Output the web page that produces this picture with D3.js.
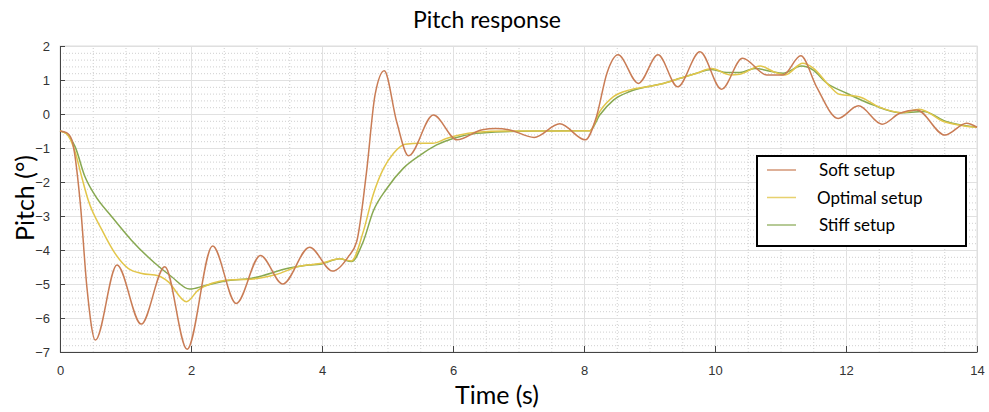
<!DOCTYPE html>
<html>
<head>
<meta charset="utf-8">
<script src="https://cdn.jsdelivr.net/npm/d3@7"></script>
<style>
  body { margin: 0; background: #fff; }
  svg { display: block; }
</style>
</head>
<body>
<svg id="chart"></svg>
<script>
// soft setup (time in s, pitch in deg)
const SOFT_T = [0, 0.1, 0.18, 0.31, 0.41, 0.54, 0.87, 1.24, 1.60, 1.94, 2.33, 2.69, 3.06, 3.40, 3.81, 4.16, 4.40, 4.53,
                4.68, 4.81, 4.95, 5.14, 5.32, 5.70, 6.06, 6.45, 6.65, 6.85, 7.24, 7.63, 8.02, 8.19, 8.35, 8.52, 8.83, 9.13,
                9.43, 9.77, 10.10, 10.42, 10.79, 11.04, 11.31, 11.55, 11.88, 12.19, 12.55, 12.82, 13.08, 13.51, 13.84, 14];
const SOFT_V = [-0.5, -0.55, -0.76, -2.63, -5.08, -6.65, -4.44, -6.18, -4.49, -6.92, -3.88, -5.57, -4.16, -5.0, -3.92, -4.62, -4.20, -3.75,
                -1.70, 0.56, 1.27, -0.23, -1.23, -0.03, -0.76, -0.46, -0.43, -0.46, -0.69, -0.29, -0.76, -0.08, 1.20, 1.74, 0.90, 1.74,
                0.80, 1.83, 0.73, 1.64, 1.15, 1.15, 1.71, 0.80, -0.13, 0.24, -0.30, 0.02, 0.12, -0.62, -0.27, -0.39];

// optimal setup
const OPT_T = [0, 0.1, 0.23, 0.33, 0.43, 0.64, 0.84, 1.04, 1.25, 1.50, 1.65, 1.93, 2.11, 2.32, 2.57, 2.95, 3.3, 3.65, 3.97,
               4.27, 4.45, 4.63, 4.78, 4.94, 5.09, 5.27, 5.50, 5.69, 5.90, 6.10, 6.36, 6.8, 7.5, 8.09, 8.24, 8.45, 8.70, 8.96,
               9.21, 9.47, 9.72, 9.95, 10.23, 10.38, 10.69, 10.90, 11.07, 11.34, 11.50, 11.76, 11.90, 12.2, 12.5, 12.85, 13.12,
               13.5, 13.8, 14];
const OPT_V = [-0.5, -0.58, -1.11, -1.84, -2.53, -3.41, -4.10, -4.54, -4.69, -4.76, -4.93, -5.52, -5.18, -4.98, -4.88, -4.85, -4.72, -4.48, -4.40,
               -4.26, -4.32, -3.46, -2.38, -1.60, -1.16, -0.89, -0.86, -0.86, -0.72, -0.62, -0.54, -0.5, -0.5, -0.49, 0.07, 0.51, 0.71, 0.80,
               0.90, 1.05, 1.20, 1.34, 1.15, 1.17, 1.41, 1.24, 1.15, 1.49, 1.35, 0.80, 0.58, 0.51, 0.21, 0.04, 0.14,
               -0.23, -0.35, -0.39];

// stiff setup
const STIFF_T = [0, 0.1, 0.23, 0.38, 0.53, 0.79, 1.09, 1.45, 1.70, 1.98, 2.21, 2.57, 2.93, 3.5, 3.8, 3.97, 4.27, 4.45, 4.63,
                 4.78, 4.99, 5.24, 5.50, 5.75, 6.0, 6.36, 6.77, 7.5, 8.09, 8.24, 8.45, 8.70, 8.96, 9.21, 9.47, 9.72, 9.95,
                 10.18, 10.38, 10.61, 10.84, 11.04, 11.32, 11.50, 11.70, 12.01, 12.42, 12.82, 13.18, 13.54, 14];
const STIFF_V = [-0.5, -0.58, -0.96, -1.84, -2.38, -3.02, -3.71, -4.39, -4.78, -5.15, -5.05, -4.90, -4.83, -4.53, -4.44, -4.42, -4.26, -4.34, -3.75,
                 -2.87, -2.19, -1.60, -1.21, -0.91, -0.72, -0.57, -0.52, -0.5, -0.49, -0.03, 0.41, 0.66, 0.80, 0.90, 1.05, 1.20, 1.31,
                 1.22, 1.22, 1.34, 1.26, 1.20, 1.41, 1.29, 0.92, 0.61, 0.26, 0.04, 0.07, -0.23, -0.39];

const SERIES_NAMES = ["Soft setup", "Optimal setup", "Stiff setup"];
const X_TICKS = [0, 2, 4, 6, 8, 10, 12, 14];
const Y_TICKS = [-7, -6, -5, -4, -3, -2, -1, 0, 1, 2];

var colors = ["#c97c55", "#e2c64a", "#87a851"];

var width = 989, height = 412;
var margin = {top: 46, right: 12, bottom: 60, left: 60};
var w = width - margin.left - margin.right;
var h = height - margin.top - margin.bottom;

var svg = d3.select("#chart").attr("width", width).attr("height", height);
var g = svg.append("g").attr("transform", "translate(" + margin.left + "," + margin.top + ")");

var x = d3.scaleLinear().domain([0, 14]).range([0, w]);
var y = d3.scaleLinear().domain([-7, 2]).range([h, 0]);

/*** grid ***/
// minor dotted: every 0.5 s and every 0.2 deg
g.append("g")
  .attr("transform", "translate(0," + h + ")")
  .call(d3.axisBottom(x).tickValues(d3.range(0.5, 14, 0.5).filter(v => v % 2 != 0)).tickSize(-h).tickFormat(""))
  .call(s => s.select(".domain").remove())
  .selectAll("line").attr("stroke", "#cfcfcf").attr("stroke-dasharray", "1,2");
g.append("g")
  .call(d3.axisLeft(y).tickValues(d3.range(-7, 2.01, 0.2).filter(v => Math.abs(v - Math.round(v)) > 0.01)).tickSize(-w).tickFormat(""))
  .call(s => s.select(".domain").remove())
  .selectAll("line").attr("stroke", "#cfcfcf").attr("stroke-dasharray", "1,2");
// major solid
g.append("g")
  .attr("transform", "translate(0," + h + ")")
  .call(d3.axisBottom(x).tickValues(X_TICKS).tickSize(-h).tickFormat(""))
  .call(s => s.select(".domain").remove())
  .selectAll("line").attr("stroke", "#e1e1e1");
g.append("g")
  .call(d3.axisLeft(y).tickValues(Y_TICKS).tickSize(-w).tickFormat(""))
  .call(s => s.select(".domain").remove())
  .selectAll("line").attr("stroke", "#e1e1e1");

// top / right box
g.append("rect").attr("width", w).attr("height", h)
  .attr("fill", "none").attr("stroke", "#dedede");

/*** axes ***/
var xAxis = g.append("g")
  .attr("transform", "translate(0," + h + ")")
  .call(d3.axisBottom(x).tickValues(X_TICKS).tickSizeInner(-6).tickSizeOuter(0).tickPadding(14));
var yAxis = g.append("g")
  .call(d3.axisLeft(y).tickValues(Y_TICKS).tickSizeInner(-5).tickSizeOuter(0).tickPadding(10));
[xAxis, yAxis].forEach(a => {
  a.select(".domain").attr("stroke", "#444");
  a.selectAll(".tick line").attr("stroke", "#444");
  a.selectAll(".tick text").attr("fill", "#333")
    .style("font-family", "'Liberation Sans', Arial, sans-serif").style("font-size", "13px");
});

/*** lines ***/
var line = d3.line()
  .x(d => x(d.t))
  .y(d => y(d.v))
  .curve(d3.curveMonotoneX);

function zip(ts, vs) { return ts.map((t, i) => ({t: t, v: vs[i]})); }
var series = [zip(SOFT_T, SOFT_V), zip(OPT_T, OPT_V), zip(STIFF_T, STIFF_V)];

// draw stiff, optimal, then soft on top
[2, 1, 0].forEach(i => {
  g.append("path")
    .datum(series[i])
    .attr("d", line)
    .attr("fill", "none")
    .attr("stroke", colors[i])
    .attr("stroke-width", 1.5);
});

/*** titles ***/
var font = "Lato, 'Open Sans', sans-serif";
svg.append("text")
  .attr("x", 487).attr("y", 28)
  .attr("text-anchor", "middle")
  .style("font-family", font).style("font-size", "23px").attr("fill", "#000")
  .text("Pitch response");
svg.append("text")
  .attr("x", 497).attr("y", 404)
  .attr("text-anchor", "middle")
  .style("font-family", font).style("font-size", "25px").attr("fill", "#000")
  .text("Time (s)");
svg.append("text")
  .attr("transform", "translate(34,198) rotate(-90)")
  .attr("text-anchor", "middle")
  .style("font-family", font).style("font-size", "25px").attr("fill", "#000")
  .text("Pitch (°)");

/*** legend ***/
var leg = svg.append("g").attr("transform", "translate(757,156)");
leg.append("rect").attr("width", 209).attr("height", 90)
  .attr("fill", "#fff").attr("stroke", "#000").attr("stroke-width", 2);
SERIES_NAMES.forEach((name, i) => {
  var yy = 14 + i * 27.5;
  leg.append("line")
    .attr("x1", 10).attr("x2", 39).attr("y1", yy).attr("y2", yy)
    .attr("stroke", colors[i]).attr("stroke-width", 1.5).attr("opacity", 0.8);
  leg.append("text")
    .attr("x", i == 1 ? 60 : 62).attr("y", yy + 6)
    .style("font-family", font).style("font-size", "17px").attr("fill", "#000")
    .text(name);
});
</script>
</body>
</html>
